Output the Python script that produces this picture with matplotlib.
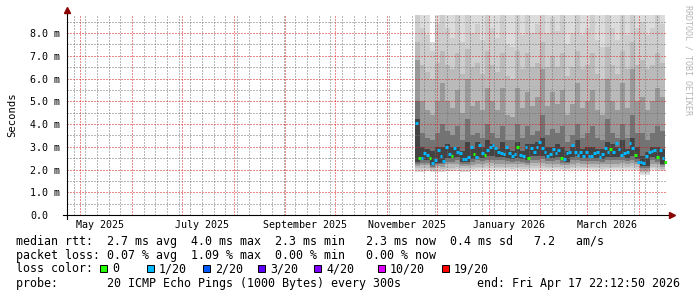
import matplotlib
matplotlib.use('Agg')
import matplotlib.pyplot as plt
import matplotlib.dates as mdates
from matplotlib.ticker import MultipleLocator, NullFormatter
from matplotlib.patches import Rectangle
import pandas as pd

# ---- data (values in ms) ----
graph_end = pd.Timestamp('2026-04-17 22:12:50')
graph_start = graph_end - pd.Timedelta(days=360)

# median rtt per step, Nov 17 2025 -> Apr 17 2026
median_start = pd.Timestamp('2025-11-17 18:00')
median_rtt = [4.06, 2.49, 2.49, 2.71, 2.64, 2.52, 2.30, 2.42, 2.86, 2.61,
              2.39, 3.00, 2.68, 2.61, 2.93, 2.78, 2.71, 2.46, 2.46, 2.56,
              3.00, 2.68, 2.56, 3.08, 2.74, 2.64, 2.86, 3.00, 3.08, 2.93,
              2.78, 2.71, 2.68, 3.00, 2.71, 2.61, 2.68, 2.97, 2.64, 2.60,
              2.97, 2.49, 2.93, 2.78, 3.00, 3.22, 2.93, 2.78, 2.61, 2.68,
              2.89, 2.74, 2.86, 2.49, 2.45, 2.71, 2.78, 3.08, 2.78, 2.62,
              2.78, 2.60, 2.78, 2.61, 2.61, 2.71, 2.78, 2.56, 2.68, 2.93,
              2.78, 2.89, 2.78, 3.15, 2.89, 2.64, 2.71, 2.78, 3.15, 2.93,
              2.64, 2.34, 2.34, 2.27, 2.60, 2.78, 2.82, 2.86, 2.56, 2.86,
              2.49, 2.34]
# lost pings out of 20 for each median step
loss = [1, 0, 1, 1, 1, 0, 1, 1, 1, 1,
        1, 1, 1, 0, 1, 1, 1, 1, 1, 1,
        1, 0, 1, 1, 1, 0, 1, 1, 1, 1,
        1, 1, 1, 1, 1, 1, 1, 0, 1, 1,
        1, 0, 1, 1, 1, 1, 1, 1, 1, 1,
        1, 1, 1, 0, 1, 1, 1, 1, 1, 1,
        1, 1, 1, 1, 1, 1, 1, 1, 1, 1,
        1, 0, 1, 1, 1, 1, 1, 1, 1, 1,
        0, 1, 1, 1, 1, 1, 1, 1, 0, 1,
        1, 0]

# smoke: sorted ping rtts (ping 1 = fastest, ping 20 = slowest), 3-day steps
smoke_start = pd.Timestamp('2025-11-17 18:00')
ping20 = [9.6, 9.4, 9.2, 7.6, 9.5, 9.8, 9.3, 9.1, 9.7, 9.0,
          9.9, 9.2, 9.4, 9.1, 9.8, 9.3, 9.1, 9.6, 9.0, 9.0,
          9.7, 9.2, 9.6, 9.3, 9.4, 9.9, 9.2, 9.5, 9.3, 9.6,
          9.0, 9.2, 9.7, 9.1, 9.3, 9.6, 9.1, 9.0, 9.8, 9.3,
          9.1, 9.7, 9.2, 9.9, 9.3, 9.4, 9.1, 9.3, 9.6, 9.4]
ping19 = [9.2, 8.2, 7.9, 7.2, 8.4, 9.0, 8.2, 7.8, 8.9, 7.6,
          9.1, 8.0, 8.4, 7.7, 9.0, 8.2, 7.8, 8.9, 7.5, 7.4,
          9.0, 7.9, 8.8, 8.0, 8.4, 9.3, 8.0, 8.7, 8.1, 8.9,
          7.5, 8.0, 9.0, 7.9, 8.2, 8.9, 7.7, 7.4, 9.2, 8.2,
          7.7, 9.0, 7.9, 9.3, 8.2, 8.5, 7.9, 8.2, 8.9, 8.4]
ping18 = [7.6, 6.6, 6.3, 6.0, 6.7, 7.2, 6.6, 6.4, 7.1, 6.2,
          7.3, 6.5, 6.7, 6.2, 7.2, 6.6, 6.3, 7.1, 6.1, 6.0,
          7.2, 6.4, 7.1, 6.5, 6.7, 7.6, 6.5, 7.0, 6.5, 7.1,
          6.1, 6.5, 7.2, 6.4, 6.6, 7.1, 6.2, 6.0, 7.4, 6.6,
          6.2, 7.2, 6.4, 7.6, 6.6, 6.8, 6.4, 6.6, 7.1, 6.7]
ping16 = [6.8, 5.0, 4.6, 4.4, 5.0, 5.8, 5.0, 4.7, 5.5, 4.5,
          6.0, 4.8, 5.0, 4.6, 5.6, 5.0, 4.6, 5.6, 4.4, 4.3,
          5.6, 4.7, 5.4, 4.8, 5.2, 6.4, 4.8, 5.4, 4.9, 5.5,
          4.4, 4.9, 5.8, 4.7, 5.0, 5.5, 4.6, 4.4, 6.0, 5.0,
          4.6, 5.8, 4.7, 6.4, 5.0, 5.2, 4.6, 5.0, 5.6, 5.2]
ping14 = [5.0, 3.6, 3.4, 3.3, 3.6, 4.0, 3.7, 3.5, 3.9, 3.3,
          4.2, 3.5, 3.6, 3.4, 4.0, 3.6, 3.4, 3.9, 3.3, 3.3,
          4.0, 3.4, 3.9, 3.5, 3.7, 4.4, 3.5, 3.8, 3.6, 3.9,
          3.2, 3.5, 4.0, 3.4, 3.6, 3.9, 3.4, 3.3, 4.2, 3.6,
          3.4, 4.0, 3.4, 4.4, 3.6, 3.6, 3.3, 3.6, 3.9, 3.7]
ping12 = [4.2, 3.0, 2.9, 2.8, 3.0, 3.0, 3.1, 3.0, 3.0, 2.8,
          3.2, 2.9, 3.2, 3.0, 3.3, 3.1, 2.9, 3.2, 2.9, 2.8,
          3.2, 2.8, 3.1, 3.1, 3.2, 3.4, 3.0, 3.0, 3.1, 3.0,
          2.8, 3.0, 3.3, 2.9, 3.0, 3.0, 2.9, 2.9, 3.2, 3.1,
          3.0, 3.3, 2.9, 3.4, 3.0, 2.6, 2.75, 3.0, 3.0, 2.9]
ping9 = [2.35, 2.4, 2.4, 2.2, 2.3, 2.3, 2.5, 2.5, 2.55, 2.35,
         2.35, 2.45, 2.55, 2.5, 2.6, 2.6, 2.55, 2.55, 2.5, 2.45,
         2.5, 2.45, 2.4, 2.6, 2.6, 2.6, 2.5, 2.5, 2.55, 2.4,
         2.35, 2.55, 2.6, 2.5, 2.5, 2.5, 2.5, 2.45, 2.55, 2.55,
         2.55, 2.6, 2.5, 2.6, 2.45, 2.15, 2.15, 2.55, 2.45, 2.25]
ping7 = [2.25, 2.28, 2.28, 2.12, 2.22, 2.22, 2.35, 2.35, 2.4, 2.25,
         2.25, 2.32, 2.4, 2.38, 2.42, 2.42, 2.4, 2.4, 2.38, 2.35,
         2.38, 2.35, 2.3, 2.42, 2.42, 2.45, 2.38, 2.38, 2.4, 2.3,
         2.28, 2.4, 2.42, 2.38, 2.38, 2.38, 2.38, 2.35, 2.4, 2.4,
         2.4, 2.42, 2.38, 2.42, 2.35, 2.08, 2.08, 2.4, 2.35, 2.18]
ping5 = [2.15, 2.18, 2.18, 2.05, 2.15, 2.12, 2.22, 2.22, 2.25, 2.15,
         2.15, 2.2, 2.25, 2.25, 2.28, 2.28, 2.26, 2.26, 2.25, 2.22,
         2.25, 2.22, 2.2, 2.28, 2.28, 2.3, 2.25, 2.25, 2.26, 2.2,
         2.18, 2.26, 2.28, 2.25, 2.25, 2.25, 2.25, 2.22, 2.26, 2.26,
         2.26, 2.28, 2.25, 2.28, 2.22, 1.98, 1.98, 2.26, 2.22, 2.1]
ping3 = [2.05, 2.06, 2.06, 1.98, 2.05, 2.04, 2.08, 2.08, 2.1, 2.05,
         2.05, 2.1, 2.12, 2.12, 2.14, 2.14, 2.12, 2.12, 2.12, 2.1,
         2.12, 2.1, 2.1, 2.14, 2.14, 2.15, 2.12, 2.12, 2.12, 2.1,
         2.08, 2.12, 2.14, 2.12, 2.12, 2.12, 2.12, 2.1, 2.12, 2.12,
         2.12, 2.14, 2.12, 2.14, 2.1, 1.88, 1.88, 2.12, 2.1, 2.02]
ping2 = [1.97, 1.97, 1.99, 1.93, 1.97, 1.97, 2.0, 2.0, 2.01, 1.97,
         1.97, 2.04, 2.06, 2.06, 2.07, 2.07, 2.06, 2.06, 2.06, 2.04,
         2.06, 2.04, 2.04, 2.07, 2.07, 2.08, 2.06, 2.06, 2.06, 2.04,
         2.03, 2.06, 2.07, 2.06, 2.06, 2.06, 2.06, 2.04, 2.06, 2.06,
         2.06, 2.07, 2.06, 2.07, 2.04, 1.83, 1.83, 2.06, 2.04, 1.99]
ping1 = [1.9, 1.9, 1.92, 1.88, 1.9, 1.9, 1.92, 1.92, 1.92, 1.9,
         1.9, 1.98, 2.0, 2.0, 2.0, 2.0, 2.0, 2.0, 2.0, 1.98,
         2.0, 1.98, 1.98, 2.0, 2.0, 2.0, 2.0, 2.0, 2.0, 1.98,
         1.98, 2.0, 2.0, 2.0, 2.0, 2.0, 2.0, 1.98, 2.0, 2.0,
         2.0, 2.0, 2.0, 2.0, 1.98, 1.78, 1.78, 2.0, 1.98, 1.95]

loss_colors = {0: '#26ff00', 1: '#00b8ff', 2: '#0059ff', 3: '#5e00ff',
               4: '#7e00ff', 10: '#dd00ff', 19: '#ff0000'}
month_labels = ['2025-05', '2025-07', '2025-09', '2025-11', '2026-01', '2026-03']
y_ticks = [0, 1, 2, 3, 4, 5, 6, 7, 8]

# ---- figure ----
W, H = 697, 297
mono = 'DejaVu Sans Mono'
fig = plt.figure(figsize=(W / 100, H / 100), dpi=100)
fig.patch.set_facecolor('white')
ax = fig.add_axes([67 / W, 1 - 215 / H, 600 / W, 200 / H])


def ext(a):
    return list(a) + [a[-1]]


# smoke, outer pair first (lightest) to inner pair (darkest)
edges = pd.date_range(smoke_start, periods=len(ping1) + 1, freq='3D')
pairs = [(ping1, ping20, '#dcdcdc'), (ping2, ping19, '#cdcdcd'),
         (ping3, ping18, '#bababa'), (ping5, ping16, '#999999'),
         (ping7, ping14, '#737373'), (ping9, ping12, '#434343')]
for lo, hi, c in pairs:
    ax.fill_between(edges, ext(lo), ext(hi), step='post', color=c,
                    linewidth=0, zorder=1)

med_edges = pd.date_range(median_start, graph_end,
                          periods=len(median_rtt) + 1).to_pydatetime()
ax.hlines(median_rtt, med_edges[:-1], med_edges[1:],
          colors=[loss_colors[l] for l in loss], linewidth=2.2, zorder=3)

ax.set_xlim(graph_start, graph_end)
ax.set_ylim(0, 200 / 22.75)

# grid (drawn over the smoke like rrdtool does)
ax.xaxis.set_major_locator(mdates.MonthLocator())
ax.xaxis.set_minor_locator(mdates.WeekdayLocator(byweekday=mdates.SU))
ax.xaxis.set_major_formatter(NullFormatter())
ax.yaxis.set_major_locator(MultipleLocator(1))
ax.yaxis.set_minor_locator(MultipleLocator(0.5))
ax.set_axisbelow(False)
ax.grid(which='minor', color=(0.45, 0.45, 0.45, 0.33), linestyle=(0, (1, 2)), linewidth=0.72)
ax.grid(which='major', color=(0.85, 0.1, 0.1, 0.38), linestyle=(0, (1, 2)), linewidth=0.72)
ax.tick_params(which='both', length=0)
for s in ax.spines.values():
    s.set_visible(False)

ax.set_yticks(y_ticks, [f'{v:.1f} m' if v else '0.0' for v in y_ticks])
for lab in ax.get_yticklabels():
    lab.set_horizontalalignment('left')
    lab.set_family(mono)
    lab.set_fontsize(7.2)
ax.tick_params(axis='y', pad=37 * 0.72)

for m in month_labels:
    t = pd.Timestamp(m + '-01')
    ax.text(t + pd.Timedelta(days=12), -0.0475, t.strftime('%B %Y'),
            transform=ax.get_xaxis_transform(), ha='center', va='center',
            family=mono, fontsize=7.2)

# axis lines with arrows
ax.plot([-4 / 600, 1 + 4 / 600], [0, 0], transform=ax.transAxes, color='black',
        lw=0.8, clip_on=False, zorder=5)
ax.plot([0, 0], [-4 / 200, 1 + 2 / 200], transform=ax.transAxes, color='black',
        lw=0.8, clip_on=False, zorder=5)
ax.plot([0], [1 + 5 / 200], marker='^', ms=4.5, color='#8b0000',
        transform=ax.transAxes, clip_on=False, zorder=6)
ax.plot([1 + 5 / 600], [0], marker='>', ms=4.5, color='#8b0000',
        transform=ax.transAxes, clip_on=False, zorder=6)

fig.text(12 / W, 1 - 115 / H, 'Seconds', rotation=90, ha='center', va='center',
         family=mono, fontsize=7.6)
fig.text(688 / W, 1 - 5 / H, 'RRDTOOL / TOBI OETIKER', rotation=270, ha='center',
         va='top', family=mono, fontsize=6, color='#b5b5b5')

# legend
rows = ['median rtt:  2.7 ms avg  4.0 ms max  2.3 ms min   2.3 ms now  0.4 ms sd   7.2   am/s',
        'packet loss: 0.07 % avg  1.09 % max  0.00 % min   0.00 % now',
        'loss color:',
        'probe:       20 ICMP Echo Pings (1000 Bytes) every 300s']
for row, ypx in zip(rows, [241, 255, 269, 283.5]):
    fig.text(16 / W, 1 - ypx / H, row, family=mono, fontsize=8.4, va='center')
fig.text(680 / W, 1 - 283.5 / H, 'end: Fri Apr 17 22:12:50 2026', family=mono,
         fontsize=8.4, va='center', ha='right')

box_x = [100, 147, 203, 258, 314, 378, 442]
box_labels = ['0', '1/20', '2/20', '3/20', '4/20', '10/20', '19/20']
for bx, lab, key in zip(box_x, box_labels, [0, 1, 2, 3, 4, 10, 19]):
    fig.patches.append(Rectangle((bx / W, 1 - 272 / H), 7 / W, 7 / H,
                                 transform=fig.transFigure, facecolor=loss_colors[key],
                                 edgecolor='black', linewidth=0.7))
    fig.text((bx + 12) / W, 1 - 269 / H, lab, family=mono, fontsize=8.4, va='center')

fig.savefig('out.png', dpi=100)
